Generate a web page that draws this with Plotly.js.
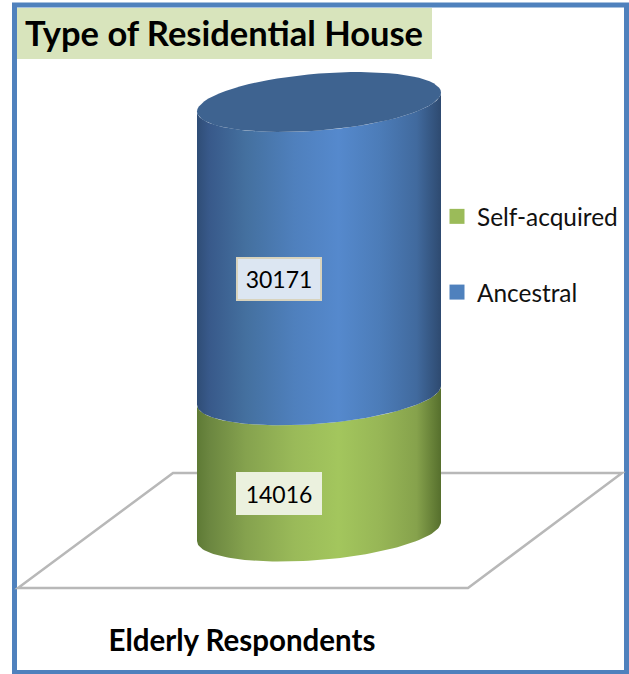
<!DOCTYPE html>
<html><head><meta charset="utf-8">
<script src="https://cdn.plot.ly/plotly-3.0.1.min.js"></script>
<style>html,body{margin:0;padding:0;background:#fff}#c{width:629px;height:674px}</style>
</head><body><div id="c"></div>
<script>
var chartTitle = 'Type of Residential House';
var categoryLabel = 'Elderly Respondents';
var seriesNames = ['Self-acquired', 'Ancestral'];
var seriesValues = [14016, 30171];
var seriesColors = ['#9bbb59', '#4f81bd'];

var W = 629, H = 674, ml = 0, mr = 145, mt = 60, mb = 74;
var pw = W - ml - mr, ph = H - mt - mb;
var perPx = 1 / 0.00972;                 // axis units per pixel
var basePx = 531.5;                      // pixel row of value 0
var yRange = [(basePx - (H - mb)) * perPx, (basePx - mt) * perPx];
var cx = 319, rx = 122, tilt = 9.5 * perPx, depth = 28.5 * perPx;

function rim(v, from, to) {
  var xs = [], ys = [], n = 72;
  for (var i = 0; i <= n; i++) {
    var t = from + (to - from) * i / n;
    xs.push(cx + rx * Math.cos(t));
    ys.push(v + tilt * Math.cos(t) - depth * Math.sin(t));
  }
  return {x: xs, y: ys};
}
function band(v0, v1) {
  var a = rim(v0, Math.PI, 0), b = rim(v1, 0, Math.PI);
  return {x: a.x.concat(b.x), y: a.y.concat(b.y)};
}
function px(x) { return x / pw; }
function py(y) { return (H - mb - y) / ph; }

var blueScale = [[0,'#2f4d76'],[0.05,'#38598a'],[0.2,'#44709f'],[0.4,'#4f80bd'],[0.58,'#5589cd'],[0.75,'#4c7cb8'],[0.9,'#416a9e'],[1,'#2e4a70']];
var greenScale = [[0,'#5e7a35'],[0.05,'#6b8640'],[0.2,'#85a24e'],[0.4,'#9aba59'],[0.58,'#a3c65d'],[0.75,'#97b656'],[0.9,'#86a24c'],[1,'#566f2d']];

var b1 = band(0, seriesValues[0]);
var b2 = band(seriesValues[0], seriesValues[0] + seriesValues[1]);
var cap = rim(seriesValues[0] + seriesValues[1], 0, 2 * Math.PI);

var traces = [
  {type:'scatter', mode:'lines', x:b1.x, y:b1.y, fill:'toself', line:{width:0}, showlegend:false, hoverinfo:'skip',
   fillgradient:{type:'horizontal', colorscale:greenScale}},
  {type:'scatter', mode:'lines', x:b2.x, y:b2.y, fill:'toself', line:{width:0}, showlegend:false, hoverinfo:'skip',
   fillgradient:{type:'horizontal', colorscale:blueScale}},
  {type:'scatter', mode:'lines', x:cap.x, y:cap.y, fill:'toself', line:{width:0}, showlegend:false, hoverinfo:'skip',
   fillcolor:'#3e6390'},
  {type:'scatter', mode:'markers', x:[null], y:[null], name:seriesNames[0], legendgroup:'a',
   marker:{symbol:'square', size:15, color:seriesColors[0]}},
  {type:'scatter', mode:'markers', x:[null], y:[null], name:seriesNames[1], legendgroup:'b',
   marker:{symbol:'square', size:15, color:seriesColors[1]}}
];

var layout = {
  width:W, height:H, autosize:false,
  margin:{l:ml, r:mr, t:mt, b:mb, pad:0},
  paper_bgcolor:'#fff', plot_bgcolor:'rgba(0,0,0,0)',
  font:{family:'Lato, sans-serif', color:'#000'},
  title:{text:'<b>'+chartTitle+'</b>', font:{family:'Lato, sans-serif', size:34.5, color:'#000'},
         x:25/W, xanchor:'left', xref:'container', y:1-34/H, yanchor:'middle', yref:'container'},
  xaxis:{range:[0,pw], showgrid:false, zeroline:false, showline:false, ticks:'', showticklabels:false, fixedrange:true,
         title:{text:'<b>'+categoryLabel+'</b>', standoff:30, font:{family:'Lato, sans-serif', size:29.5, color:'#000'}}},
  yaxis:{range:yRange, showgrid:false, zeroline:false, showline:false, ticks:'', showticklabels:false, fixedrange:true},
  legend:{x:px(437), y:py(194), xanchor:'left', yanchor:'top', traceorder:'grouped', tracegroupgap:41,
          bgcolor:'rgba(0,0,0,0)', font:{family:'Lato, sans-serif', size:24.4, color:'#111'}, itemwidth:30},
  shapes:[
    {type:'rect', xref:'paper', yref:'paper', x0:px(14.5), x1:px(626.5), y0:py(5), y1:py(672.5),
     line:{color:'#4f81bd', width:5}, fillcolor:'rgba(0,0,0,0)', layer:'below'},
    {type:'rect', xref:'paper', yref:'paper', x0:px(17), x1:px(432), y0:py(8), y1:py(59),
     line:{width:0}, fillcolor:'#d8e4bc', layer:'below'},
    {type:'path', xref:'paper', yref:'paper', layer:'below', line:{color:'#b8b8b8', width:2.5},
     path:'M'+px(173)+','+py(473)+' L'+px(622)+','+py(473)+' L'+px(468)+','+py(588)+' L'+px(18)+','+py(588)+' Z'}
  ],
  annotations:[
    {xref:'x', yref:'y', x:279, y:(basePx-278.5)*perPx, text:String(seriesValues[1]), showarrow:false,
     font:{family:'Lato, sans-serif', size:23, color:'#000'}, bgcolor:'#dce6f2', bordercolor:'#d8d3bd', borderwidth:2,
     width:80, height:38, align:'center', valign:'middle'},
    {xref:'x', yref:'y', x:279, y:(basePx-493.5)*perPx, text:String(seriesValues[0]), showarrow:false,
     font:{family:'Lato, sans-serif', size:23, color:'#000'}, bgcolor:'#ebf1de',
     width:84, height:41, borderwidth:0, align:'center', valign:'middle'}
  ]
};
Plotly.newPlot('c', traces, layout, {displayModeBar:false, staticPlot:true});
</script></body></html>
